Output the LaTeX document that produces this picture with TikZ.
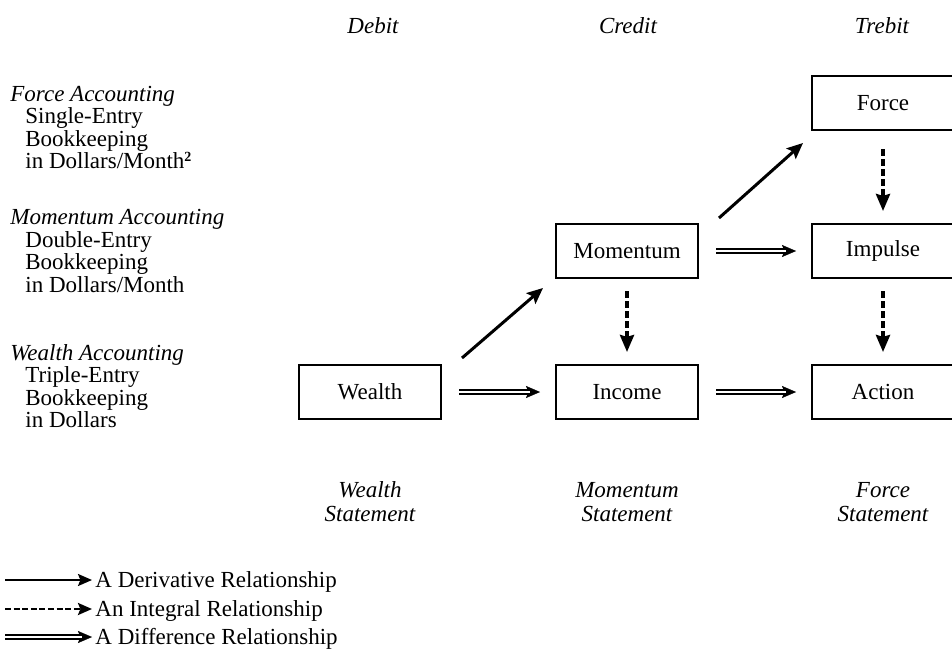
\documentclass[tikz,border=0pt]{standalone}
\usepackage{fontspec}
\setmainfont{Liberation Serif}
\usetikzlibrary{arrows.meta}
\begin{document}
\begin{tikzpicture}[x=0.5pt,y=-0.5pt,
  txt/.style={inner sep=0pt,font=\fontsize{11.5}{13}\selectfont},
  itx/.style={txt,font=\fontsize{11.5}{13}\selectfont\itshape},
  stbox/.style={draw,line width=1pt,minimum width=71pt,minimum height=27pt,inner sep=0pt,font=\fontsize{11.5}{13}\selectfont},
  deriv/.style={line width=1.5pt,-{Stealth[length=8pt,width=7pt,inset=1.5pt]}},
  integ/.style={line width=1.8pt,dash pattern=on 3.5pt off 1.5pt,-{Stealth[length=8.5pt,width=7pt,inset=1pt]}},
  diff/.style={line width=0.1pt,-{Stealth[length=7pt,width=6pt,inset=1.2pt]},
    postaction={draw,-,double,double distance=1.4pt,line width=0.9pt,shorten >=5pt}}
]
\useasboundingbox (0,0) rectangle (952,658);
% column headers
\node[itx,anchor=base] (debit) at (373,34) {Debit};
\node[itx,anchor=base] (credit) at (628,34) {Credit};
\node[itx,anchor=base] (trebit) at (882,34) {Trebit};
% left text
\node[itx,anchor=base west] (fa) at (10,102) {Force Accounting};
\node[txt,anchor=base west] (fa1) at (25,124) {Single-Entry};
\node[txt,anchor=base west] (fa2) at (25,147) {Bookkeeping};
\node[txt,anchor=base west] (fa3) at (25,169) {in Dollars/Month\raisebox{0.75ex}{\fontsize{7}{7}\selectfont\bfseries 2}};
\node[itx,anchor=base west] (ma) at (10,224) {Momentum Accounting};
\node[txt,anchor=base west] (ma1) at (25,247) {Double-Entry};
\node[txt,anchor=base west] (ma2) at (25,269) {Bookkeeping};
\node[txt,anchor=base west] (ma3) at (25,292) {in Dollars/Month};
\node[itx,anchor=base west] (wa) at (10,360) {Wealth Accounting};
\node[txt,anchor=base west] (wa1) at (25,382) {Triple-Entry};
\node[txt,anchor=base west] (wa2) at (25,405) {Bookkeeping};
\node[txt,anchor=base west] (wa3) at (25,427) {in Dollars};
% boxes
\node[stbox] (wealth) at (370,392) {Wealth};
\node[stbox] (income) at (627,392) {Income};
\node[stbox] (action) at (883,392) {Action};
\node[stbox] (momentum) at (627,251) {Momentum};
\node[stbox] (impulse) at (883,251) {Impulse};
\node[stbox] (force) at (883,103) {Force};
% arrows
\draw[deriv] ([shift={(20,-34)}]wealth.east) -- ([shift={(-12,9)}]momentum.south west);
\draw[deriv] ([shift={(20,-33)}]momentum.east) -- ([shift={(-8,12)}]force.south west);
\draw[diff] ([xshift=8.5pt]wealth.east) -- ([xshift=-7.5pt]income.west);
\draw[diff] ([xshift=8.5pt]income.east) -- ([xshift=-7.5pt]action.west);
\draw[diff] ([xshift=8.5pt]momentum.east) -- ([xshift=-7.5pt]impulse.west);
\draw[integ] ([yshift=-6pt]momentum.south) -- ([yshift=6pt]income.north);
\draw[integ] ([yshift=-9pt]force.south) -- ([yshift=6pt]impulse.north);
\draw[integ] ([yshift=-6pt]impulse.south) -- ([yshift=6pt]action.north);
% statements
\node[itx,anchor=base] (ws1) at (370,497) {Wealth};
\node[itx,anchor=base] (ws2) at (370,521) {Statement};
\node[itx,anchor=base] (ms1) at (627,497) {Momentum};
\node[itx,anchor=base] (ms2) at (627,521) {Statement};
\node[itx,anchor=base] (fs1) at (883,497) {Force};
\node[itx,anchor=base] (fs2) at (883,521) {Statement};
% legend
\coordinate (l1a) at (5,580); \coordinate (l1b) at (92,580);
\coordinate (l2a) at (5,609); \coordinate (l2b) at (92,609);
\coordinate (l3a) at (5,637); \coordinate (l3b) at (92,637);
\draw[line width=1pt,-{Stealth[length=7pt,width=6pt,inset=1.2pt]}] (l1a) -- (l1b);
\draw[line width=1.2pt,dash pattern=on 3pt off 1.3pt,-{Stealth[length=7pt,width=6pt,inset=1.2pt]}] (l2a) -- (l2b);
\draw[diff] (l3a) -- (l3b);
\node[txt,anchor=base west] (lg1) at (95,587) {A Derivative Relationship};
\node[txt,anchor=base west] (lg2) at (95,616) {An Integral Relationship};
\node[txt,anchor=base west] (lg3) at (95,644) {A Difference Relationship};
\end{tikzpicture}
\end{document}
